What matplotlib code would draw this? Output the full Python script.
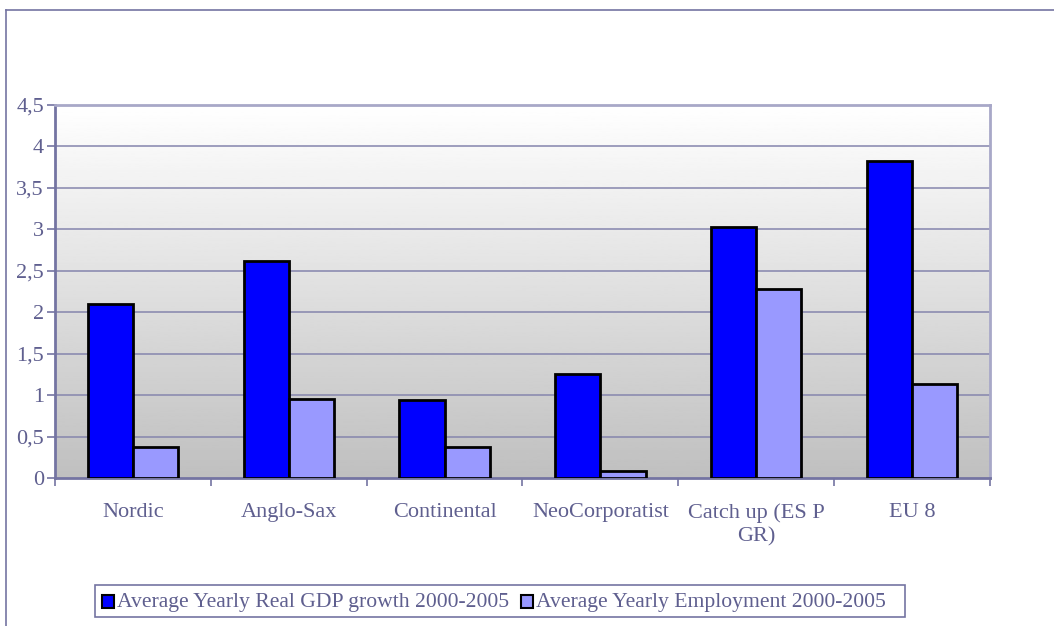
import numpy as np
import matplotlib.pyplot as plt
from matplotlib.patches import Rectangle

plt.rcParams['font.family'] = ['Liberation Serif', 'DejaVu Serif']

categories = ['Nordic', 'Anglo-Sax', 'Continental', 'NeoCorporatist',
              'Catch up (ES P\nGR)', 'EU 8']
gdp_growth = [2.10, 2.62, 0.94, 1.25, 3.03, 3.82]
employment = [0.37, 0.95, 0.37, 0.08, 2.28, 1.13]
series_names = ['Average Yearly Real GDP growth 2000-2005',
                'Average Yearly Employment 2000-2005']
yticks = [0, 0.5, 1, 1.5, 2, 2.5, 3, 3.5, 4, 4.5]
ytick_labels = ['0', '0,5', '1', '1,5', '2', '2,5', '3', '3,5', '4', '4,5']

text_col = '#5f5f8f'
axis_col = '#7474a2'
grid_col = '#8585ad'
fs = 16

W, H = 1054, 626
fig = plt.figure(figsize=(W / 100, H / 100), dpi=100)
fig.patch.set_facecolor('white')

# chart frame (left and top edges visible)
fig.add_artist(plt.Line2D([6 / W, 6 / W], [0, 1 - 10 / H], transform=fig.transFigure,
                          color=axis_col, lw=1.2))
fig.add_artist(plt.Line2D([6 / W, 1], [1 - 10 / H, 1 - 10 / H], transform=fig.transFigure,
                          color=axis_col, lw=1.2))

left, right, top, bottom = 55, 990, 105, 478
ax = fig.add_axes([left / W, 1 - bottom / H, (right - left) / W, (bottom - top) / H])

x = np.arange(len(categories))
ax.set_xlim(-0.5, len(categories) - 0.5)
ax.set_ylim(0, 4.5)

# vertical gradient background, white at top to grey at bottom
grad = np.linspace(0.75, 1.0, 256).reshape(-1, 1)
ax.imshow(grad, extent=(-0.5, len(categories) - 0.5, 0, 4.5), origin='lower',
          cmap='gray', vmin=0, vmax=1, aspect='auto', zorder=0)

for y in yticks[1:]:
    ax.axhline(y, color=grid_col, lw=1.1, zorder=1)

w = 0.29
ax.bar(x - w / 2, gdp_growth, w, color='#0000ff', edgecolor='black', lw=2, zorder=3)
ax.bar(x + w / 2, employment, w, color='#9999ff', edgecolor='black', lw=2, zorder=3)

for side in ['left', 'bottom']:
    ax.spines[side].set_color(axis_col)
    ax.spines[side].set_linewidth(2)
for side in ['right', 'top']:
    ax.spines[side].set_color('#a8a8c8')
    ax.spines[side].set_linewidth(2)

ax.set_yticks(yticks)
ax.set_yticklabels(ytick_labels)
ax.set_xticks(np.arange(-0.5, len(categories)), minor=False)
ax.set_xticklabels([])
ax.set_xticks(x, minor=True)
ax.set_xticklabels(categories, minor=True, fontsize=fs, color=text_col,
                   linespacing=1.3, ha='center', va='top')
ax.tick_params(axis='x', which='minor', length=0, pad=18)
ax.tick_params(axis='x', which='major', direction='out', length=6, color=axis_col, width=1.2)
ax.tick_params(axis='y', direction='out', length=6, color=axis_col, width=1.2,
               labelsize=fs, labelcolor=text_col, pad=2)

# legend
lx0, ly0, lx1, ly1 = 95, 585, 905, 617
fig.add_artist(Rectangle((lx0 / W, 1 - ly1 / H), (lx1 - lx0) / W, (ly1 - ly0) / H,
                         transform=fig.transFigure, fill=False, edgecolor=axis_col, lw=1.2))
ly = 1 - 603 / H
fig.add_artist(Rectangle((102 / W, 1 - 608 / H), 12 / W, 13 / H, transform=fig.transFigure,
                         facecolor='#0000ff', edgecolor='black', lw=1.5))
fig.text(117 / W, ly, series_names[0], fontsize=15.6, color=text_col, va='center')
fig.add_artist(Rectangle((521 / W, 1 - 608 / H), 12 / W, 13 / H, transform=fig.transFigure,
                         facecolor='#9999ff', edgecolor='black', lw=1.5))
fig.text(536 / W, ly, series_names[1], fontsize=15.6, color=text_col, va='center')

fig.savefig('out.png', dpi=100)
